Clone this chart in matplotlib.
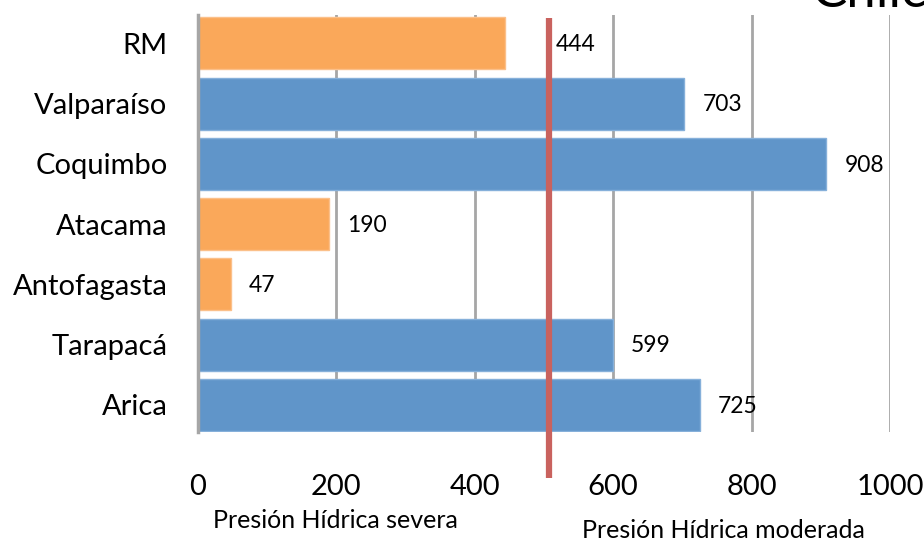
import matplotlib
matplotlib.use("Agg")
import matplotlib.pyplot as plt
from matplotlib.transforms import blended_transform_factory

plt.rcParams['font.family'] = ['Lato', 'DejaVu Sans']

regions = ["Arica", "Tarapacá", "Antofagasta", "Atacama", "Coquimbo", "Valparaíso", "RM"]
values = [725, 599, 47, 190, 908, 703, 444]
severe = [False, False, True, True, False, False, True]
threshold = 507
xticks = [0, 200, 400, 600, 800, 1000]

orange = "#FAA85A"
blue = "#6095C9"
grid_gray = "#A6A6A6"

fig = plt.figure(figsize=(9.24, 5.42), dpi=100)
ax = fig.add_axes([0.2143, 0.2030, 0.7489, 0.7693])

colors = [orange if s else blue for s in severe]
edges = ["#FBC08A" if s else "#86B0DA" for s in severe]
ypos = list(range(len(regions)))
ax.barh(ypos, values, height=0.865, color=colors, edgecolor=edges,
        linewidth=1, zorder=3)

ax.set_xlim(0, 1000)
ax.set_ylim(-0.45, 6.47)
ax.set_xticks(xticks)
ax.set_xticklabels([str(t) for t in xticks], fontsize=21)
ax.set_yticks(ypos)
ax.set_yticklabels(regions, fontsize=21)
ax.tick_params(axis='x', length=0, pad=30)
ax.tick_params(axis='y', length=0, pad=22)

for x in xticks[1:]:
    ax.axvline(x, color=grid_gray, linewidth=2, zorder=1)

for side in ["top", "right", "bottom"]:
    ax.spines[side].set_visible(False)
ax.spines["left"].set_color(grid_gray)
ax.spines["left"].set_linewidth(2.5)
ax.spines["left"].set_zorder(4)

# value labels
for y, v, name in zip(ypos, values, regions):
    off = 36 if name == "RM" else 13
    ax.annotate(str(v), xy=(v, y), xytext=(off, -1), textcoords="offset points",
                va="center", ha="left", fontsize=16.5, color="black", zorder=5)

# threshold line between severe and moderate water stress
trans = blended_transform_factory(ax.transData, ax.transAxes)
ax.plot([threshold, threshold], [0.993, -0.11], transform=trans,
        color="#C9625E", linewidth=4.5, clip_on=False, zorder=6,
        solid_capstyle="butt")

fig.text(213 / 924, 1 - 521 / 542, "Presión Hídrica severa", fontsize=18,
         ha="left", va="center")
fig.text(582 / 924, 1 - 531 / 542, "Presión Hídrica moderada", fontsize=18,
         ha="left", va="center")

fig.text(812 / 924, 1 - 7 / 542, "Chile", fontsize=38, ha="left",
         va="baseline", color="black")

fig.savefig("out.png", dpi=100)
